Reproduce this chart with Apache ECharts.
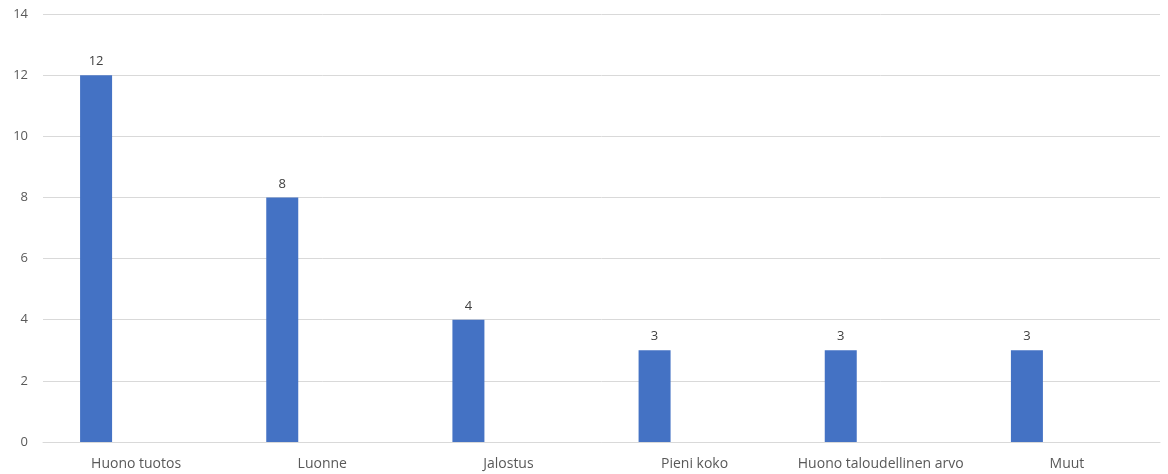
<!DOCTYPE html>
<html>
<head>
<meta charset="utf-8">
<script src="https://cdn.jsdelivr.net/npm/echarts@6/dist/echarts.min.js"></script>
<style>html,body{margin:0;padding:0;background:#fff;}#c{width:1168px;height:474px;}</style>
</head>
<body>
<div id="c"></div>
<script>
const categories = ["Huono tuotos", "Luonne", "Jalostus", "Pieni koko", "Huono taloudellinen arvo", "Muut"];
const values = [12, 8, 4, 3, 3, 3];
const emptySeries = ["-", "-", "-", "-", "-", "-"];
const yTicks = [0, 2, 4, 6, 8, 10, 12, 14];

const chart = echarts.init(document.getElementById('c'));
const font = '"Open Sans", "Noto Sans", sans-serif';
chart.setOption({
  animation: false,
  grid: { left: 43, right: 8, top: 14, bottom: 32 },
  xAxis: {
    type: 'category',
    data: categories,
    axisLine: { show: true, lineStyle: { color: '#d9d9d9' } },
    axisTick: { show: false },
    axisLabel: { color: '#595959', fontSize: 14, fontFamily: font, margin: 15, interval: 0, hideOverlap: false }
  },
  yAxis: {
    type: 'value',
    min: yTicks[0],
    max: yTicks[yTicks.length - 1],
    interval: 2,
    axisLine: { show: false },
    axisTick: { show: false },
    splitLine: { lineStyle: { color: '#d9d9d9' } },
    axisLabel: { color: '#595959', fontSize: 13, fontFamily: font, margin: 15 }
  },
  series: [
    {
      type: 'bar',
      data: values,
      barWidth: 32,
      barGap: '150%',
      itemStyle: { color: '#4472c4' },
      label: { show: true, position: 'top', color: '#404040', fontSize: 13, fontFamily: font, distance: 7 }
    },
    {
      type: 'bar',
      data: emptySeries,
      barWidth: 32,
      itemStyle: { color: '#ed7d31' }
    }
  ]
});
</script>
</body>
</html>
